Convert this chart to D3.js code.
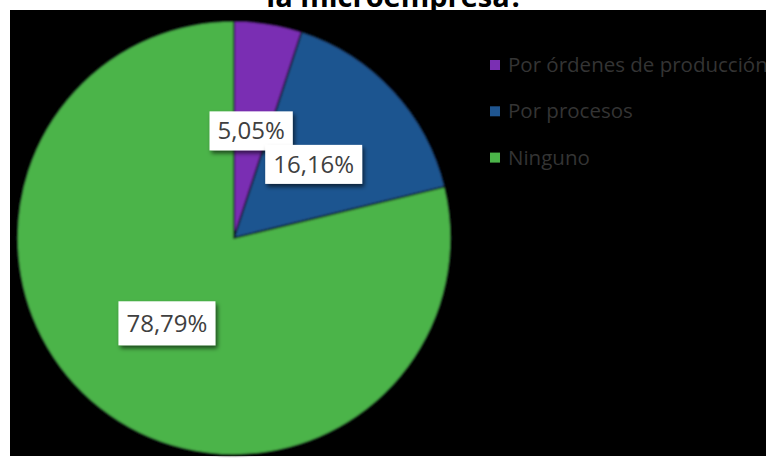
<!DOCTYPE html>
<html>
<head>
<meta charset="utf-8">
<script src="https://cdn.jsdelivr.net/npm/d3@7"></script>
<style>
  html, body { margin: 0; padding: 0; background: #ffffff; }
  svg { display: block; }
</style>
</head>
<body>
<svg id="chart" width="766" height="460"></svg>
<script>
// Costing systems used by the microenterprises (share of responses)
const categories = ["Por órdenes de producción", "Por procesos", "Ninguno"];
const values = [5.05, 16.16, 78.79];
const valueLabels = ["5,05%", "16,16%", "78,79%"];
const colors = ["#7a2fb3", "#1f5590", "#4bb449"];
const titleText = "la microempresa?";

const svg = d3.select("#chart");
const W = 766, H = 460;

// title (second line of the heading, partly above the plot area)
svg.append("text")
  .attr("x", 395)
  .attr("y", 7)
  .attr("text-anchor", "middle")
  .style("font-family", "'Open Sans', sans-serif")
  .style("font-weight", "700")
  .style("font-size", "29px")
  .attr("fill", "#000")
  .text(titleText);

// black chart area
svg.append("rect")
  .attr("x", 10).attr("y", 10)
  .attr("width", W - 10).attr("height", 446)
  .attr("fill", "#000");

const defs = svg.append("defs");
const shadow = defs.append("filter").attr("id", "lblShadow")
  .attr("x", "-20%").attr("y", "-20%").attr("width", "150%").attr("height", "160%");
shadow.append("feDropShadow")
  .attr("dx", 2).attr("dy", 3).attr("stdDeviation", 2)
  .attr("flood-color", "#000").attr("flood-opacity", 0.6);

const soft = defs.append("filter").attr("id", "softEdge");
soft.append("feGaussianBlur").attr("stdDeviation", 0.8);

// pie
const cx = 234, cy = 238, R = 217;
const pie = d3.pie().sort(null).value(d => d)(values);
const arc = d3.arc().innerRadius(0).outerRadius(R);

const g = svg.append("g").attr("transform", `translate(${cx},${cy})`);
g.append("g").attr("filter", "url(#softEdge)")
  .selectAll("path")
  .data(pie)
  .join("path")
  .attr("d", arc)
  .attr("fill", (d, i) => colors[i])
  .attr("stroke", "#0a0a14")
  .attr("stroke-width", 1.5);

// value labels in white boxes at the slice centroids
const labelFont = 24;
const lbl = g.selectAll("g.lbl")
  .data(pie)
  .join("g")
  .attr("class", "lbl")
  .attr("transform", d => {
    const [x, y] = arc.centroid(d);
    return `translate(${x},${y})`;
  });

lbl.each(function(d, i) {
  const sel = d3.select(this);
  const t = sel.append("text")
    .attr("text-anchor", "middle")
    .attr("dy", "0.35em")
    .style("font-family", "'Open Sans', sans-serif")
    .style("font-size", labelFont + "px")
    .attr("fill", "#404040")
    .text(valueLabels[i]);
  const bb = t.node().getBBox();
  const padX = 8, h = i === 2 ? 44 : 39;
  sel.insert("rect", "text")
    .attr("x", bb.x - padX)
    .attr("y", -h / 2)
    .attr("width", bb.width + 2 * padX)
    .attr("height", h)
    .attr("fill", "#ffffff")
    .attr("filter", "url(#lblShadow)");
});

// legend
const legend = svg.append("g").attr("transform", "translate(490,65)");
const item = legend.selectAll("g")
  .data(categories)
  .join("g")
  .attr("transform", (d, i) => `translate(0,${i * 46.3})`);
item.append("rect")
  .attr("x", 0).attr("y", -5)
  .attr("width", 10).attr("height", 10)
  .attr("fill", (d, i) => colors[i]);
item.append("text")
  .attr("x", 18)
  .attr("y", 7)
  .style("font-family", "'Open Sans', sans-serif")
  .style("font-size", "20.5px")
  .attr("fill", "#343434")
  .text(d => d);
</script>
</body>
</html>
